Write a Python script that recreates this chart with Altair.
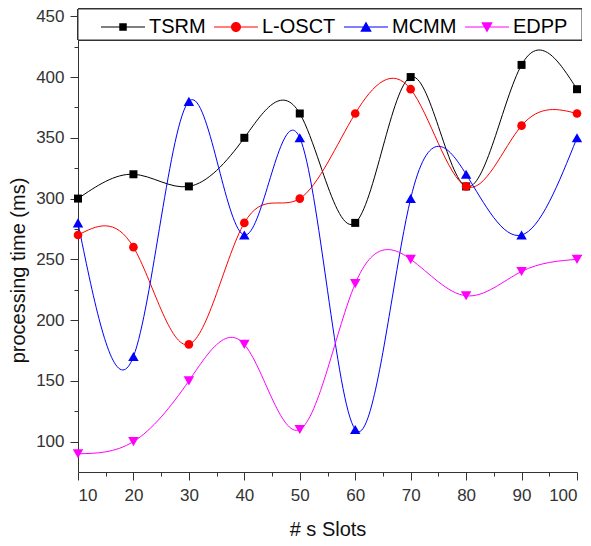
import altair as alt
import pandas as pd

# ---- data ----
slots = [10, 20, 30, 40, 50, 60, 70, 80, 90, 100]
tsrm = [300, 320, 310, 350, 370, 280, 400, 310, 410, 390]
losct = [270, 260, 180, 280, 300, 370, 390, 310, 360, 370]
mcmm = [280, 170, 380, 270, 350, 110, 300, 320, 270, 350]
edpp = [90, 100, 150, 180, 110, 230, 250, 220, 240, 250]

series_names = ["TSRM", "L-OSCT", "MCMM", "EDPP"]
series_values = [tsrm, losct, mcmm, edpp]
series_colors = ["#000000", "#ff0000", "#0000ff", "#ff00ff"]
marker_shapes = ["square", "circle", "triangle-up", "triangle-down"]
marker_sizes = [64, 75, 110, 110]

x_major = [10, 20, 30, 40, 50, 60, 70, 80, 90, 100]
x_minor = [15, 25, 35, 45, 55, 65, 75, 85, 95]
y_major = [100, 150, 200, 250, 300, 350, 400, 450]
y_minor = [125, 175, 225, 275, 325, 375, 425]

# legend symbols: line segment + marker (unit box [-1, 1])
legend_paths = [
    "M-4.4,-0.1H-0.75V0.1H-4.4Z M-0.75,-0.75H0.75V0.75H-0.75Z M0.75,-0.1H4.4V0.1H0.75Z",
    "M-4.4,-0.1H-0.95V0.1H-4.4Z M-1,0A1,1,0,1,1,1,0A1,1,0,1,1,-1,0Z M0.95,-0.1H4.4V0.1H0.95Z",
    "M-4.4,-0.1H-0.5V0.1H-4.4Z M0,-1.1L1.15,0.95L-1.15,0.95Z M0.5,-0.1H4.4V0.1H0.5Z",
    "M-4.4,-0.1H-0.5V0.1H-4.4Z M0,1.1L-1.15,-0.95L1.15,-0.95Z M0.5,-0.1H4.4V0.1H0.5Z",
]

rows = []
for name, vals in zip(series_names, series_values):
    for s, v in zip(slots, vals):
        rows.append({"slots": s, "time": v, "series": name})
df = pd.DataFrame(rows)

FONT = "Liberation Sans"
x_scale = alt.Scale(domain=[10, 100], nice=False, zero=False)
y_scale = alt.Scale(domain=[75, 456], nice=False, zero=False)
color_scale = alt.Scale(domain=series_names, range=series_colors)

main_x_axis = alt.Axis(
    values=x_major, format="d", orient="bottom", grid=False,
    tickSize=8, labelPadding=7, labelFontSize=17,
    title="# s Slots", titleFontSize=20, titleY=63, titleBaseline="alphabetic",
)
main_y_axis = alt.Axis(
    values=y_major, format="d", orient="left", grid=False,
    tickSize=8, labelPadding=6, labelFontSize=17,
    title="processing time (ms)", titleFontSize=20, titleAngle=270,
    titleX=-54, titleY=261, titleBaseline="alphabetic", titleAlign="center",
)
minor_x_axis = alt.Axis(values=x_minor, orient="bottom", grid=False, tickSize=4,
                        labels=False, domain=False, title="")
minor_y_axis = alt.Axis(values=y_minor, orient="left", grid=False, tickSize=4,
                        labels=False, domain=False, title="")

base = alt.Chart(df)

legend_box = base.mark_rect(fill="white", stroke="#333333", strokeWidth=1).encode(
    x=alt.value(0), x2=alt.value(504), y=alt.value(0), y2=alt.value(31)
)

line_layers = []
point_layers = []
for i, (name, col, shp, sz) in enumerate(zip(series_names, series_colors, marker_shapes, marker_sizes)):
    sub = base.transform_filter(alt.datum.series == name)
    line_layers.append(
        sub.mark_line(interpolate="natural", strokeWidth=1, color=col).encode(
            x=alt.X("slots:Q", scale=x_scale, axis=main_x_axis if i == 0 else None),
            y=alt.Y("time:Q", scale=y_scale, axis=main_y_axis if i == 0 else None),
        )
    )
    point_layers.append(
        sub.mark_point(filled=True, shape=shp, size=sz, opacity=1, color=col).encode(
            x=alt.X("slots:Q", scale=x_scale, axis=None),
            y=alt.Y("time:Q", scale=y_scale, axis=None),
        )
    )

legend_def = alt.Legend(
    title=None, orient="none", legendX=35, legendY=8, direction="horizontal",
    columns=4, symbolSize=100, symbolStrokeWidth=0, symbolOpacity=1,
    labelFontSize=20, labelFont=FONT, labelColor="#000000", labelOffset=16,
    columnPadding=8, padding=0,
)
legend_layer = base.mark_point(filled=True, opacity=0).encode(
    x=alt.X("slots:Q", scale=x_scale, axis=None),
    y=alt.Y("time:Q", scale=y_scale, axis=None),
    color=alt.Color("series:N", scale=color_scale, legend=legend_def),
    shape=alt.Shape("series:N", scale=alt.Scale(domain=series_names, range=legend_paths),
                    legend=legend_def),
)

minor_ticks = base.mark_point(opacity=0).encode(
    x=alt.X("slots:Q", scale=x_scale, axis=minor_x_axis),
    y=alt.Y("time:Q", scale=y_scale, axis=minor_y_axis),
)

chart = (
    alt.layer(legend_box, *line_layers, *point_layers, legend_layer, minor_ticks)
    .resolve_axis(x="independent", y="independent")
    .properties(
        width=499, height=463,
        autosize=alt.AutoSizeParams(type="none"),
        padding={"left": 70, "top": 1, "right": 5, "bottom": 66},
    )
    .configure_view(stroke=None)
    .configure_axis(
        labelFont=FONT, titleFont=FONT, labelColor="#333333", titleColor="#111111",
        domainColor="#333333", tickColor="#333333", titleFontWeight="normal",
    )
)

chart.save("out.html", embed_options={"renderer": "svg", "actions": False})
